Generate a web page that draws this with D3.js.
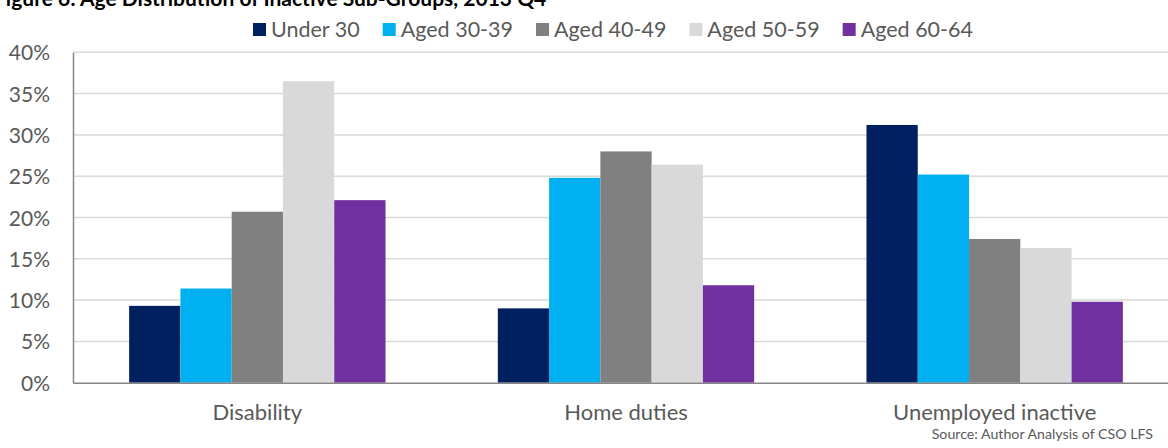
<!DOCTYPE html>
<html>
<head>
<meta charset="utf-8">
<script src="https://cdn.jsdelivr.net/npm/d3@7"></script>
<style>
  html, body { margin: 0; padding: 0; background: #fff; overflow: hidden; }
  svg { display: block; }
  text { font-family: Lato, "Open Sans", sans-serif; }
</style>
</head>
<body>
<svg id="chart" width="1168" height="448"></svg>
<script>
// data
var categories = ["Disability", "Home duties", "Unemployed inactive"];
var seriesNames = ["Under 30", "Aged 30-39", "Aged 40-49", "Aged 50-59", "Aged 60-64"];
var seriesColors = ["#002060", "#00B0F0", "#808080", "#D9D9D9", "#7030A0"];
var under30 = [0.093, 0.090, 0.312];
var aged3039 = [0.114, 0.248, 0.252];
var aged4049 = [0.207, 0.280, 0.174];
var aged5059 = [0.365, 0.264, 0.163];
var aged6064 = [0.221, 0.118, 0.098];
var yTicks = [0, 0.05, 0.10, 0.15, 0.20, 0.25, 0.30, 0.35, 0.40];
var titleText = "Figure 6: Age Distribution of Inactive Sub-Groups, 2013 Q4";
var sourceText = "Source: Author Analysis of CSO LFS";

var seriesValues = [under30, aged3039, aged4049, aged5059, aged6064];

var svg = d3.select("#chart");
var textGrey = "#595959";

// plot area (right edge runs past the picture, as in the source)
var plotLeft = 73, plotRight = 1179, plotTop = 52.3, plotBottom = 382.7;

var y = d3.scaleLinear().domain([0, 0.40]).range([plotBottom, plotTop]);

// excel style gap width 219%
var x0 = d3.scaleBand()
  .domain(categories)
  .range([plotLeft, plotRight])
  .paddingInner(0.3046)
  .paddingOuter(0.1523);

var x1 = d3.scaleBand()
  .domain(seriesNames)
  .range([0, x0.bandwidth()]);

// gridlines
svg.append("g")
  .selectAll("line")
  .data(yTicks.slice(1))
  .enter().append("line")
  .attr("x1", plotLeft).attr("x2", plotRight)
  .attr("y1", function(d){ return y(d); })
  .attr("y2", function(d){ return y(d); })
  .attr("stroke", "#D9D9D9")
  .attr("stroke-width", 1.5);

// y axis
var yAxis = d3.axisLeft(y)
  .tickValues(yTicks)
  .tickFormat(d3.format(".0%"))
  .tickSize(0)
  .tickPadding(23);

var gy = svg.append("g")
  .attr("transform", "translate(" + plotLeft + ",0)")
  .call(yAxis);
gy.select(".domain").attr("stroke", "#868686").attr("stroke-width", 1.5);
gy.selectAll("text")
  .attr("fill", textGrey)
  .style("font-size", "21px")
  .attr("dy", "0.36em");

// bars
var groups = svg.append("g")
  .selectAll("g")
  .data(categories)
  .enter().append("g")
  .attr("transform", function(d){ return "translate(" + x0(d) + ",0)"; });

groups.selectAll("rect")
  .data(function(d, ci){
    return seriesNames.map(function(s, si){
      return {series: s, value: seriesValues[si][ci], color: seriesColors[si]};
    });
  })
  .enter().append("rect")
  .attr("x", function(d){ return x1(d.series); })
  .attr("width", x1.bandwidth())
  .attr("y", function(d){ return y(d.value); })
  .attr("height", function(d){ return y(0) - y(d.value); })
  .attr("fill", function(d){ return d.color; });

// x axis
var xAxis = d3.axisBottom(x0).tickSize(0).tickPadding(22);
var gx = svg.append("g")
  .attr("transform", "translate(0," + plotBottom + ")")
  .call(xAxis);
gx.select(".domain").attr("stroke", "#868686").attr("stroke-width", 1.5);
gx.selectAll("text")
  .attr("fill", textGrey)
  .style("font-size", "22px");

// title (cut off at the top like the source image)
svg.append("text")
  .attr("x", -6)
  .attr("y", 6)
  .attr("fill", "#000")
  .style("font-size", "21px")
  .style("font-weight", "bold")
  .text(titleText);

// legend
var legend = svg.append("g");
var lx = 0;
seriesNames.forEach(function(s, i){
  var item = legend.append("g").attr("transform", "translate(" + lx + ",0)");
  item.append("rect")
    .attr("x", 0).attr("y", 23)
    .attr("width", 13).attr("height", 13)
    .attr("fill", seriesColors[i]);
  var t = item.append("text")
    .attr("x", 18).attr("y", 36.5)
    .attr("fill", textGrey)
    .style("font-size", "21.5px")
    .text(s);
  lx += 18 + t.node().getComputedTextLength() + 23;
});
var legendWidth = lx - 23;
legend.attr("transform", "translate(" + (613 - legendWidth / 2) + ",0)");

// source note
svg.append("text")
  .attr("x", 1153)
  .attr("y", 438.5)
  .attr("text-anchor", "end")
  .attr("fill", textGrey)
  .style("font-size", "14.2px")
  .text(sourceText);
</script>
</body>
</html>
